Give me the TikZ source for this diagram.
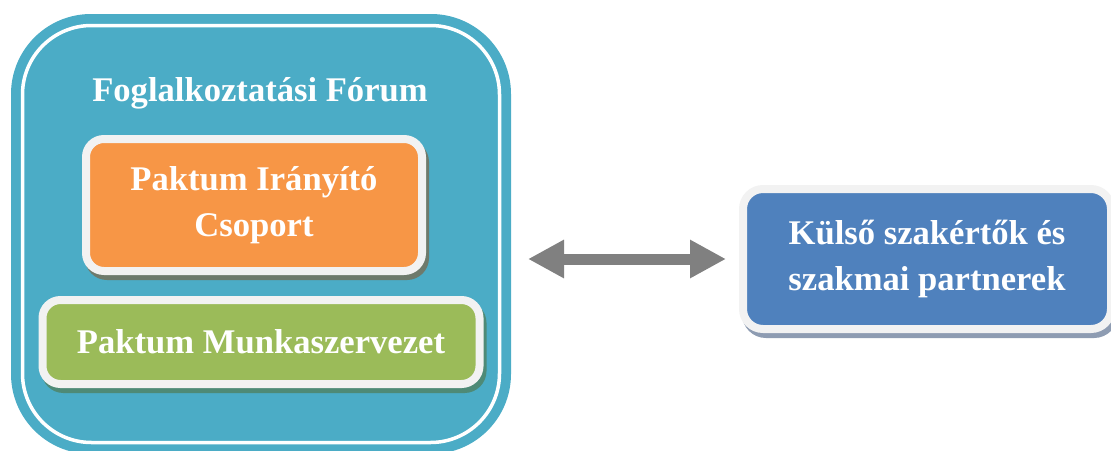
\documentclass[tikz,border=0pt]{standalone}
\usepackage{fontspec}
\setmainfont{Liberation Serif}
\usetikzlibrary{arrows.meta,shadows}
\definecolor{forumblue}{RGB}{75,172,198}
\definecolor{pigorange}{RGB}{247,150,70}
\definecolor{pmszgreen}{RGB}{155,187,89}
\definecolor{kulsoblue}{RGB}{79,129,189}
\definecolor{panelrim}{RGB}{242,242,242}
\definecolor{arrowgray}{RGB}{128,128,128}
\definecolor{shadeO}{RGB}{110,122,108}
\definecolor{shadeG}{RGB}{78,138,118}
\definecolor{shadeK}{RGB}{142,156,178}
\begin{document}
\begin{tikzpicture}[x=1pt,y=-1pt,
  every node/.style={font=\fontsize{34.6}{46}\selectfont\bfseries,text=white,align=center,inner sep=0pt,outer sep=0pt},
  panel/.style={draw=panelrim,line width=8pt,rounded corners=18pt},
  shade/.style={drop shadow={shadow xshift=3pt,shadow yshift=-5pt,fill=#1,draw=#1,line width=8pt,opacity=1}},
  twoway/.style={{Triangle[length=36pt,width=36pt]}-{Triangle[length=36pt,width=36pt]},line width=11pt,draw=arrowgray}]
  \clip (0,0) rectangle (1111,450);
  % big frame on the left
  \node[fill=forumblue,minimum width=500pt,minimum height=440pt,rounded corners=80pt] (forum) at (261,234) {};
  \draw[white,line width=3.5pt,rounded corners=69pt] ([shift={(11.5,11.5)}]forum.north west) rectangle ([shift={(-11.5,-11.5)}]forum.south east);
  \node (title) at (260,93) {Foglalkoztatási Fórum};
  \node[panel,shade=shadeO,fill=pigorange,minimum width=336pt,minimum height=132pt] (pig) at (254,205) {Paktum Irányító\\Csoport};
  \node[panel,shade=shadeG,fill=pmszgreen,minimum width=437pt,minimum height=84pt] (pmsz) at (261,342) {Paktum Munkaszervezet};
  % partners
  \node[panel,shade=shadeK,fill=kulsoblue,rounded corners=20pt,minimum width=368pt,minimum height=140pt] (kulso) at (927,259) {Külső szakértők és\\szakmai partnerek};
  \draw[twoway,shorten <=17pt,shorten >=17pt] (forum.east |- kulso.west) -- (kulso.west);
\end{tikzpicture}
\end{document}
